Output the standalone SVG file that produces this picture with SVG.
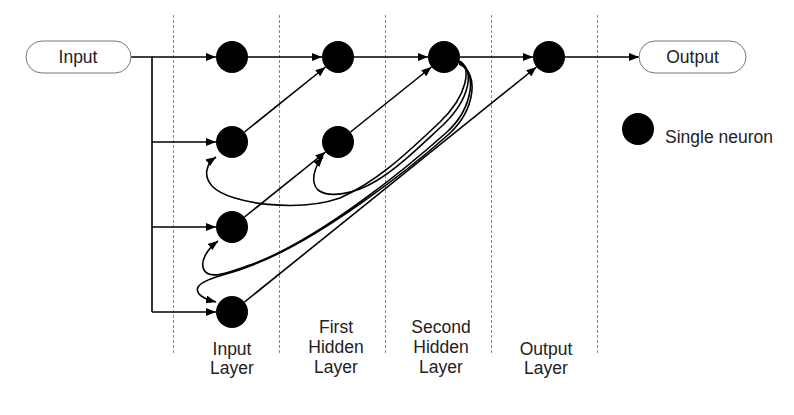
<svg xmlns="http://www.w3.org/2000/svg" width="794" height="415" viewBox="0 0 794 415">
<defs>
<marker id="ah" viewBox="0 0 10 8" refX="10" refY="4" markerWidth="10" markerHeight="8" markerUnits="userSpaceOnUse" orient="auto">
<path d="M0,0 L10,4 L0,8 Z" fill="#000"/>
</marker>
</defs>
<style>
.guide{stroke:#888;stroke-width:1;stroke-dasharray:3,2;fill:none}
.pill{fill:#fff;stroke:#777;stroke-width:1}
.neuron{fill:#000}
.edge{stroke:#000;stroke-width:1.6;fill:none}
.arr{marker-end:url(#ah)}
text{font-family:"Liberation Sans",Arial,sans-serif;font-size:17.5px;fill:#222}
.c{text-anchor:middle}
</style>
<rect width="794" height="415" fill="#fff"/>
<g id="guides">
<line class="guide" x1="173.5" y1="15" x2="173.5" y2="353"/>
<line class="guide" x1="279.5" y1="15" x2="279.5" y2="353"/>
<line class="guide" x1="385.5" y1="15" x2="385.5" y2="353"/>
<line class="guide" x1="491.5" y1="15" x2="491.5" y2="353"/>
<line class="guide" x1="597.5" y1="15" x2="597.5" y2="353"/>
</g>
<g id="connectors">
<path class="edge" d="M131,57 H152 V312"/>
<line class="edge arr" x1="152" y1="57" x2="216" y2="57"/>
<line class="edge arr" x1="152" y1="142" x2="216" y2="142"/>
<line class="edge arr" x1="152" y1="227" x2="216" y2="227"/>
<line class="edge arr" x1="152" y1="312" x2="216" y2="312"/>
<line class="edge arr" x1="248" y1="57" x2="322" y2="57"/>
<line class="edge arr" x1="354" y1="57" x2="428" y2="57"/>
<line class="edge arr" x1="460" y1="57" x2="533" y2="57"/>
<line class="edge arr" x1="565" y1="57" x2="639" y2="57"/>
<line class="edge arr" x1="244.5" y1="132" x2="325.5" y2="67"/>
<line class="edge arr" x1="244.5" y1="217" x2="325.5" y2="152"/>
<line class="edge arr" x1="350.5" y1="132" x2="431.5" y2="67"/>
<line class="edge arr" x1="244.5" y1="302" x2="536.5" y2="67"/>
<path class="edge arr" d="M459,61 C472,66 468,95 440,122 C410,150 380,180 340,198 C300,212 230,205 212,186 C203,176 206,164 216,157"/>
<path class="edge arr" d="M459,62 C475,68 471,98 443,125 C418,148 398,168 376,181 C356,193 330,199 318,190 C310,182 314,167 323,157"/>
<path class="edge arr" d="M459,63 C478,71 473,108 447,132 C410,165 320,240 250,265 C228,273 210,280 204,270 C200,262 206,250 218,241"/>
<path class="edge arr" d="M459,64 C480,73 475,110 449,134 C412,167 320,240 250,266 C228,275 204,278 198,287 C195,294 204,299 216,302"/>
</g>
<g id="n-input">
<rect class="pill" x="26" y="41" width="105" height="32" rx="16"/>
<text class="c" x="78" y="63">Input</text>
</g>
<g id="n-output">
<rect class="pill" x="639" y="41" width="107" height="32" rx="16"/>
<text class="c" x="692.5" y="63">Output</text>
</g>
<g id="n-i1"><circle class="neuron" cx="232" cy="57" r="16"/></g>
<g id="n-i2"><circle class="neuron" cx="232" cy="142" r="16"/></g>
<g id="n-i3"><circle class="neuron" cx="232" cy="227" r="16"/></g>
<g id="n-i4"><circle class="neuron" cx="232" cy="312" r="16"/></g>
<g id="n-h1a"><circle class="neuron" cx="338" cy="57" r="16"/></g>
<g id="n-h1b"><circle class="neuron" cx="338" cy="142" r="16"/></g>
<g id="n-h2"><circle class="neuron" cx="444" cy="57" r="16"/></g>
<g id="n-o"><circle class="neuron" cx="549" cy="57" r="16"/></g>
<g id="legend">
<circle class="neuron" cx="638" cy="129" r="16"/>
<text x="665" y="143">Single neuron</text>
</g>
<g id="labels">
<text class="c" x="232" y="355">Input</text>
<text class="c" x="232" y="374">Layer</text>
<text class="c" x="336" y="333">First</text>
<text class="c" x="336" y="353">Hidden</text>
<text class="c" x="336" y="373">Layer</text>
<text class="c" x="441" y="333">Second</text>
<text class="c" x="441" y="353">Hidden</text>
<text class="c" x="441" y="373">Layer</text>
<text class="c" x="546" y="355">Output</text>
<text class="c" x="546" y="374">Layer</text>
</g>
</svg>
